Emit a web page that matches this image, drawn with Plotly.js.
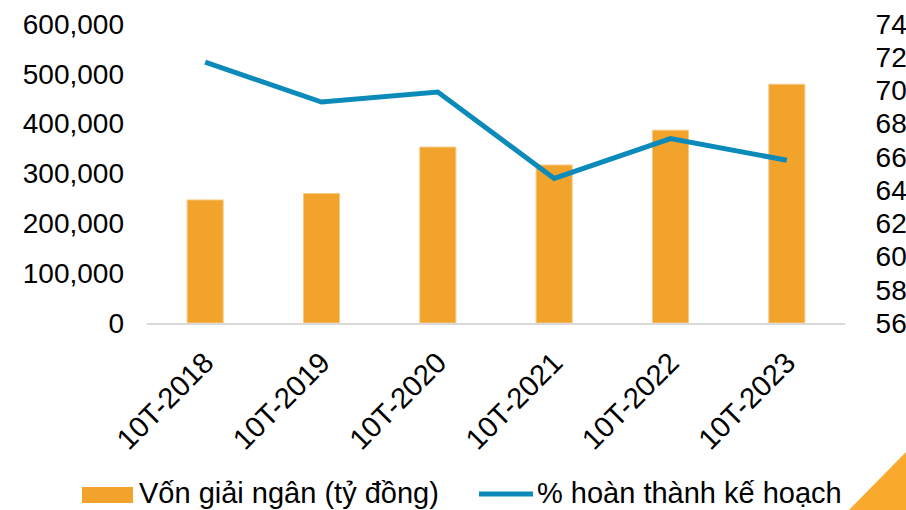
<!DOCTYPE html>
<html>
<head>
<meta charset="utf-8">
<script src="https://cdn.plot.ly/plotly-3.0.1.min.js"></script>
<style>html,body{margin:0;padding:0;background:#fff;}#chart{width:906px;height:510px;}</style>
</head>
<body>
<div id="chart"></div>
<script>
const categories = ["10T-2018", "10T-2019", "10T-2020", "10T-2021", "10T-2022", "10T-2023"];
const disbursed = [247000, 260000, 353000, 317000, 387000, 479000];
const completionPct = [71.7, 69.3, 69.9, 64.7, 67.1, 65.8];
const seriesNames = ["Vốn giải ngân (tỷ đồng)", "% hoàn thành kế hoạch"];
const leftTicks = [0, 100000, 200000, 300000, 400000, 500000, 600000];
const rightTicks = [56, 58, 60, 62, 64, 66, 68, 70, 72, 74];

const barColor = "#F1A32B";
const lineColor = "#0C8BBB";
const FONT = "Liberation Sans, Arial, sans-serif";

const traces = [
  {
    type: "bar", x: categories, y: disbursed, name: seriesNames[0],
    marker: {color: barColor, line: {color: "#F6C986", width: 1}},
    width: 0.31, yaxis: "y", showlegend: false, hoverinfo: "x+y"
  },
  {
    type: "scatter", mode: "lines", x: categories, y: completionPct, name: seriesNames[1],
    line: {color: lineColor, width: 5}, yaxis: "y2", showlegend: false
  }
];

// custom legend (paper coordinates)
const L = 147, R = 845, T = 24, B = 323;
const px = v => (v - L) / (R - L);
const py = v => (B - v) / (B - T);

const layout = {
  width: 906, height: 510,
  margin: {l: L, r: 906 - R, t: T, b: 510 - B},
  paper_bgcolor: "#fff", plot_bgcolor: "#fff",
  font: {family: FONT, size: 28, color: "#000"},
  bargap: 0,
  xaxis: {
    type: "category", range: [-0.5, 5.5], tickangle: -45,
    showgrid: false, zeroline: false, showline: true, linecolor: "#D9D9D9", linewidth: 2,
    ticks: "", tickfont: {family: FONT, size: 29, color: "#000"}, ticklabelstandoff: 9
  },
  yaxis: {
    range: [0, 600000], tickvals: leftTicks, tickformat: ",d",
    showgrid: false, zeroline: false, showline: false, ticks: "",
    tickfont: {family: FONT, size: 28, color: "#000"}, ticklabelstandoff: 22
  },
  yaxis2: {
    overlaying: "y", side: "right", range: [56, 74], tickvals: rightTicks,
    showgrid: false, zeroline: false, showline: false,
    ticks: "outside", ticklen: 24, tickcolor: "rgba(0,0,0,0)",
    tickfont: {family: FONT, size: 28, color: "#000"}
  },
  shapes: [
    {type: "rect", xref: "paper", yref: "paper", x0: px(82), x1: px(133), y0: py(487), y1: py(503),
     fillcolor: barColor, line: {width: 0}},
    {type: "line", xref: "paper", yref: "paper", x0: px(479), x1: px(533), y0: py(494), y1: py(494),
     line: {color: lineColor, width: 5, cap: "round"}},
    {type: "path", xref: "paper", yref: "paper",
     path: `M ${px(848)} ${py(511)} L ${px(907)} ${py(451)} L ${px(907)} ${py(511)} Z`,
     fillcolor: "#F9AA2E", line: {width: 0}}
  ],
  annotations: [
    {xref: "paper", yref: "paper", x: px(138), y: py(510), xanchor: "left", yanchor: "bottom",
     text: seriesNames[0], showarrow: false, borderpad: 0,
     font: {family: FONT, size: 29, color: "#000"}},
    {xref: "paper", yref: "paper", x: px(536), y: py(510), xanchor: "left", yanchor: "bottom",
     text: seriesNames[1], showarrow: false, borderpad: 0,
     font: {family: FONT, size: 29, color: "#000"}}
  ]
};

Plotly.newPlot("chart", traces, layout, {displayModeBar: false, staticPlot: true});
</script>
</body>
</html>
